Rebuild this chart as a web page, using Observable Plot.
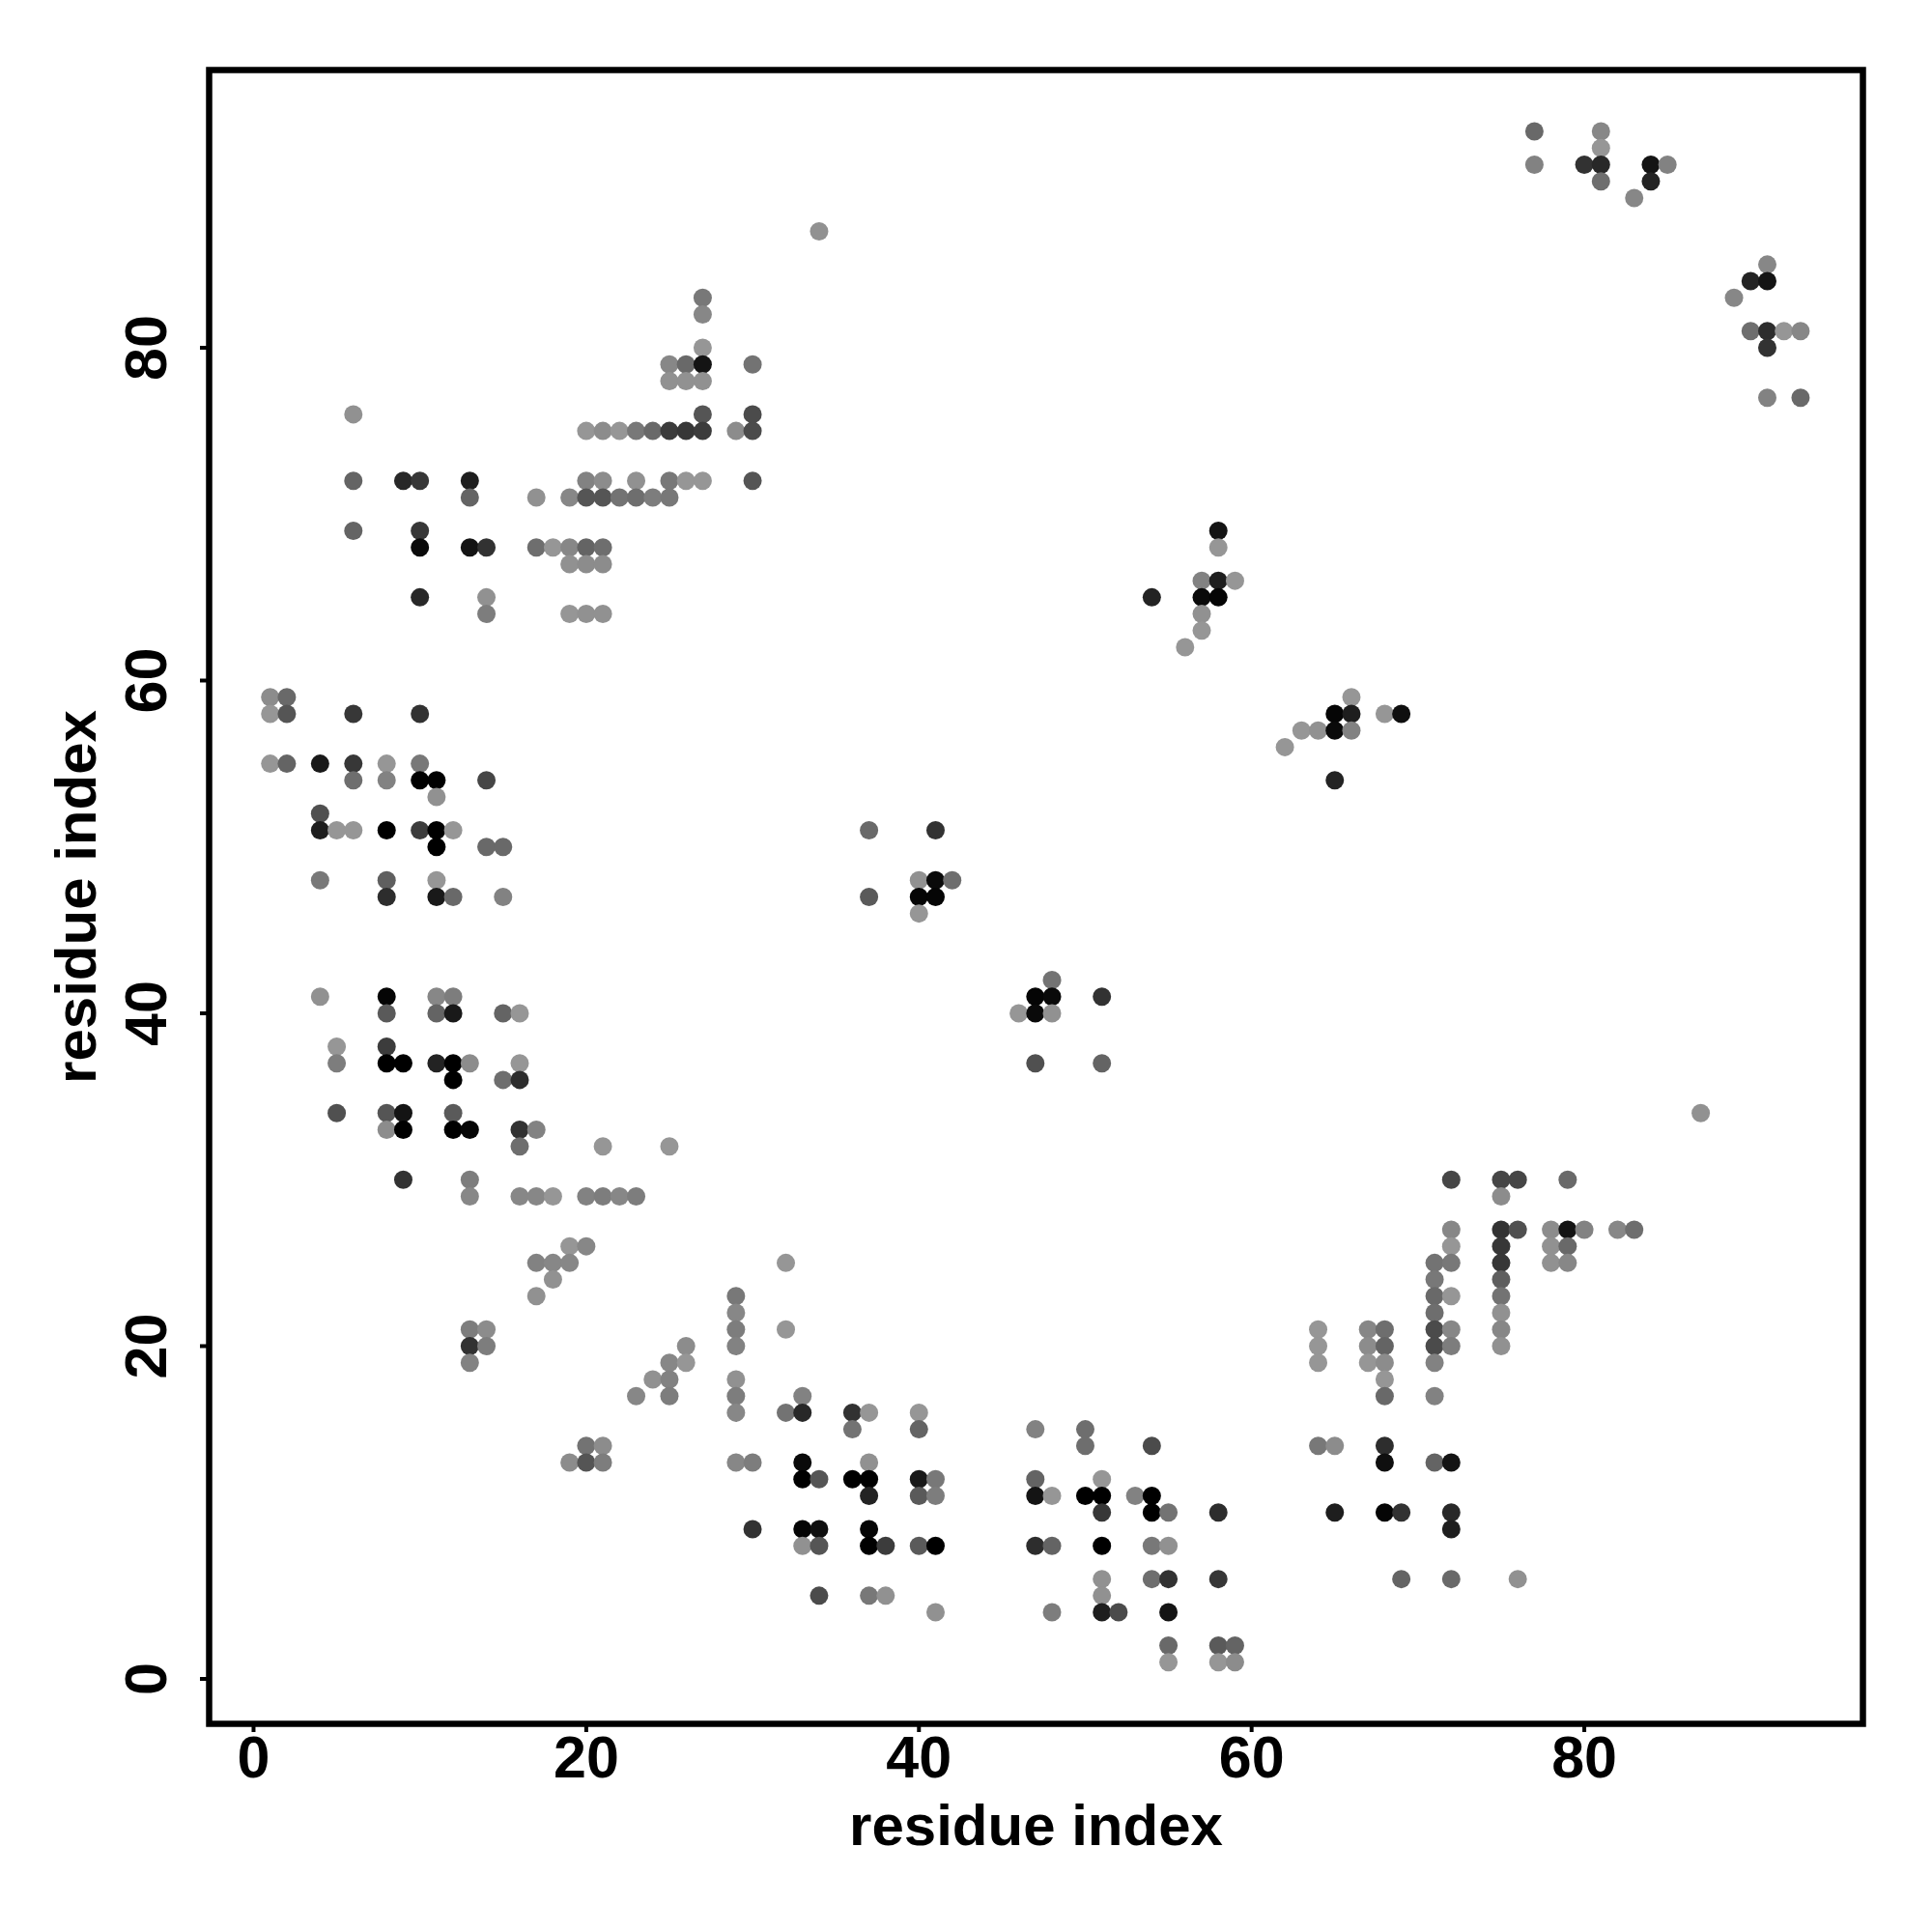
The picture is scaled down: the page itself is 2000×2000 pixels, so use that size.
<!DOCTYPE html>
<html>
<head>
<meta charset="utf-8">
<script src="https://cdn.jsdelivr.net/npm/d3@7"></script>
<script src="https://cdn.jsdelivr.net/npm/@observablehq/plot@0.6"></script>
<style>html,body{margin:0;padding:0;background:#fff}svg{display:block}</style>
</head>
<body>
<div id="chart"></div>
<script>
const rowY = [93,92,91,90,89,87,85,84,83,82,81,80,79,78,77,76,75,72,71,69,68,67,66,65,64,63,62,59,58,57,56,55,54,53,52,51,50,48,47,46,42,41,40,38,37,36,34,33,32,30,29,27,26,25,24,23,22,21,20,19,18,17,16,15,14,13,12,11,10,9,8,6,5,4,2,1];
const rowX = [
[77,81],[81],[77,80,81,84,85],[81,84],[83],[34],[91],[90,91],[27,89],[27],[90,91,92,93],[27,91],
[25,26,27,30],[25,26,27],[91,93],[6,27,30],[20,21,22,23,24,25,26,27,29,30],
[6,9,10,13,20,21,23,25,26,27,30],[13,17,19,20,21,22,23,24,25],[6,10,58],
[10,13,14,17,18,19,20,21,58],[19,20,21],[57,58,59],[10,14,54,57,58],[14,19,20,21,57],[57],[56],
[1,2,66],[1,2,6,10,65,66,68,69],[63,64,65,66],[62],[1,2,4,6,8,10],[6,8,10,11,14,65],[11],[4],
[4,5,6,8,10,11,12,37,41],[11,14,15],[4,8,11,40,41,42],[8,11,12,15,37,40,41],[40],[48],
[4,8,11,12,47,48,51],[8,11,12,15,16,46,47,48],[5,8],[5,8,9,11,12,13,16,47,51],[12,15,16],
[5,8,9,12,87],[8,9,12,13,16,17],[16,21,25],[9,13,72,75,76,79],[13,16,17,18,20,21,22,23,75],
[72,75,76,78,79,80,82,83],[19,20,72,75,78,79],[17,18,19,32,71,72,75,78,79],[18,71,75],
[17,29,71,72,75],[29,71,75],[13,14,29,32,64,67,68,71,72,75],[13,14,26,29,64,67,68,71,72,75],
[13,25,26,64,67,68,71],[24,25,29,68],[23,25,29,33,68,71],[29,32,33,36,37,40],[36,40,47,50],
[20,21,50,54,64,65,68],[19,20,21,29,30,33,37,68,71,72],[33,34,36,37,40,41,47,51],
[37,40,41,47,48,50,51,53,54],[51,54,55,58,65,68,69,72],[30,33,34,37,72],
[33,34,37,38,40,41,47,48,51,54,55],[51,54,55,58,69,72,76],[34,37,38,51],[41,48,51,52,55],
[55,58,59],[55,58,59]
];
const rowShade = [
[105,135],[150],[130,50,40,20,130],[110,35],[135],[145],[135],[35,20],[120,135],[135],[110,45,150,135],[150,50],
[135,105,20,115],[145,145,145],[130,105],[145,85,75],[150,140,150,120,105,60,55,60,140,75],
[100,40,55,30,130,140,145,120,150,150,85],[100,145,135,85,85,115,110,125,120],[100,55,20],
[10,20,50,110,150,135,100,110,150],[145,140,140],[130,30,150],[40,145,35,10,5],[125,150,145,145,145],[150],[150],
[140,105,150],[150,85,55,50,5,30,150,15],[150,145,10,130],[150],[150,100,25,55,150,120],[110,130,0,0,70,35],[145],[80],
[30,150,150,0,60,0,150,105,50],[0,105,105],[120,95,150,145,10,110],[45,25,105,130,90,5,5],[150],[115],
[145,5,135,125,5,10,50],[90,100,25,100,150,150,10,145],[150,60],[125,0,0,35,0,140,150,80,100],[0,110,45],
[80,85,20,90,145],[140,0,0,5,50,130],[110,150,150],[50,125,70,70,70,105],[135,135,135,150,130,125,135,125,140],
[135,50,80,140,20,130,135,110],[150,135,150,55,145,105],[130,135,135,150,115,120,55,145,135],[145,120,95],
[145,120,105,150,115],[135,110,145],[125,140,125,150,150,135,110,75,135,135],[50,125,140,130,150,140,100,75,125,145],
[130,135,150,150,150,140,130],[145,130,145,150],[135,125,125,130,105,130],[135,115,40,50,150,150],[115,100,130,110],
[115,140,110,75,120,140,45],[140,85,125,135,125,10,145,15,100,20],[0,85,0,0,25,120,100,150],
[35,90,125,20,150,0,0,130,0],[55,0,115,45,30,5,50,40],[50,5,15,5,30],
[145,85,0,60,90,0,45,100,0,120,145],[145,110,50,55,100,105,145],[75,120,145,145],[145,125,30,75,20],
[105,90,100],[150,150,140]
];
const xTicks = [0,20,40,60,80];
const yTicks = [0,20,40,60,80];
const axisTitle = "residue index";

const contacts = rowY.flatMap((y, r) => rowX[r].map((x, k) => ({x, y, g: rowShade[r][k]})));
const font = "'Liberation Sans', Arial, Helvetica, sans-serif";
const tickStyle = {tickSize: 9, strokeWidth: 4, fontSize: 61, fontWeight: "bold", fontFamily: font, fill: "#000", stroke: "#000", tickFormat: d => String(d), label: null};
const titleStyle = {text: d => d, fontSize: 60, fontWeight: "bold", fontFamily: font, fill: "#000", lineAnchor: "bottom", textAnchor: "middle"};

const chart = Plot.plot({
  width: 2000, height: 2000,
  marginLeft: 216, marginRight: 72, marginTop: 72, marginBottom: 216,
  style: {background: "#fff", fontFamily: font},
  x: {domain: [-2.67, 96.75], label: null},
  y: {domain: [-2.7, 96.69], label: null},
  marks: [
    Plot.dot(contacts, {x: "x", y: "y", r: 9.5, fill: d => `rgb(${d.g},${d.g},${d.g})`, stroke: "none"}),
    Plot.frame({stroke: "#000", strokeWidth: 6.5}),
    Plot.axisX({...tickStyle, ticks: xTicks, tickPadding: 3}),
    Plot.axisY({...tickStyle, ticks: yTicks, tickPadding: 36, tickRotate: -90}),
    Plot.text([axisTitle], {...titleStyle, frameAnchor: "bottom", dy: 125}),
    Plot.text([axisTitle], {...titleStyle, frameAnchor: "left", dx: -118, rotate: -90})
  ]
});
document.getElementById("chart").appendChild(chart);
</script>
</body>
</html>
